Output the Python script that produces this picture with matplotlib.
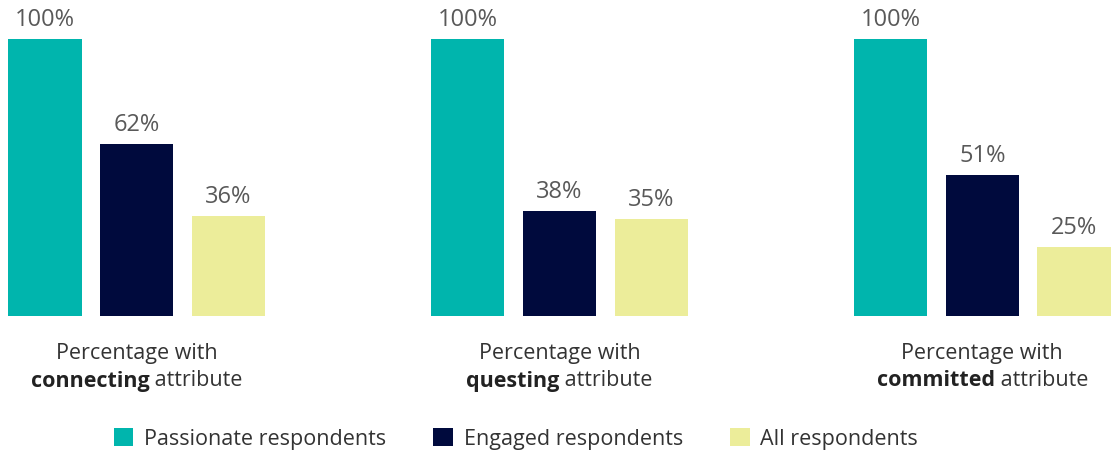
import numpy as np
import matplotlib.pyplot as plt
from matplotlib.patches import Patch

plt.rcParams['font.family'] = ['Open Sans', 'DejaVu Sans']

# data
attributes = ["connecting", "questing", "committed"]
series = ["Passionate respondents", "Engaged respondents", "All respondents"]
passionate = [100, 100, 100]
engaged = [62, 38, 51]
all_resp = [36, 35, 25]
colors = ["#00b5ad", "#000a3d", "#eced9a"]

fig = plt.figure(figsize=(11.12, 4.51), dpi=100)
ax = fig.add_axes([0, 135 / 451, 1, 277 / 451])

group_gap = 4.6
width = 0.8
centers = np.arange(len(attributes)) * group_gap

for i, vals in enumerate([passionate, engaged, all_resp]):
    xs = centers + (i - 1)
    ax.bar(xs, vals, width=width, color=colors[i])
    for x, v in zip(xs, vals):
        ax.text(x, v + 2.5, f"{v}%", ha="center", va="bottom",
                fontsize=17, color="#595959", clip_on=False)

ax.set_xlim(-1.487, 10.611)
ax.set_ylim(0, 100)
ax.axis("off")

# category labels: line 1 regular, line 2 bold word + regular word
fig.canvas.draw()
r = fig.canvas.get_renderer()
for c, name in zip(centers, attributes):
    ax.annotate("Percentage with", xy=(c, 0), xycoords="data",
                xytext=(0, -38), textcoords="offset pixels",
                ha="center", va="center", fontsize=15.5, color="#333333")
    b = ax.annotate(name, xy=(c, 0), xycoords="data",
                    xytext=(0, -65), textcoords="offset pixels",
                    ha="left", va="center", fontsize=15.5,
                    fontweight="bold", color="#222222")
    rest = ax.annotate(" attribute", xy=(c, 0), xycoords="data",
                       xytext=(0, -65), textcoords="offset pixels",
                       ha="left", va="center", fontsize=15.5, color="#333333")
    wb = b.get_window_extent(r).width
    wr = rest.get_window_extent(r).width
    start = -(wb + wr) / 2
    b.set_position((start, -65))
    rest.set_position((start + wb, -65))

handles = [Patch(facecolor=col, edgecolor="none") for col in colors]
fig.legend(handles, series, loc="center", bbox_to_anchor=(516 / 1112, 1 - 439 / 451),
           ncol=3, frameon=False, fontsize=15.5, handlelength=0.9,
           handleheight=0.9, handletextpad=0.5, columnspacing=2.2,
           labelcolor="#333333")

fig.savefig("out.png", dpi=100)
